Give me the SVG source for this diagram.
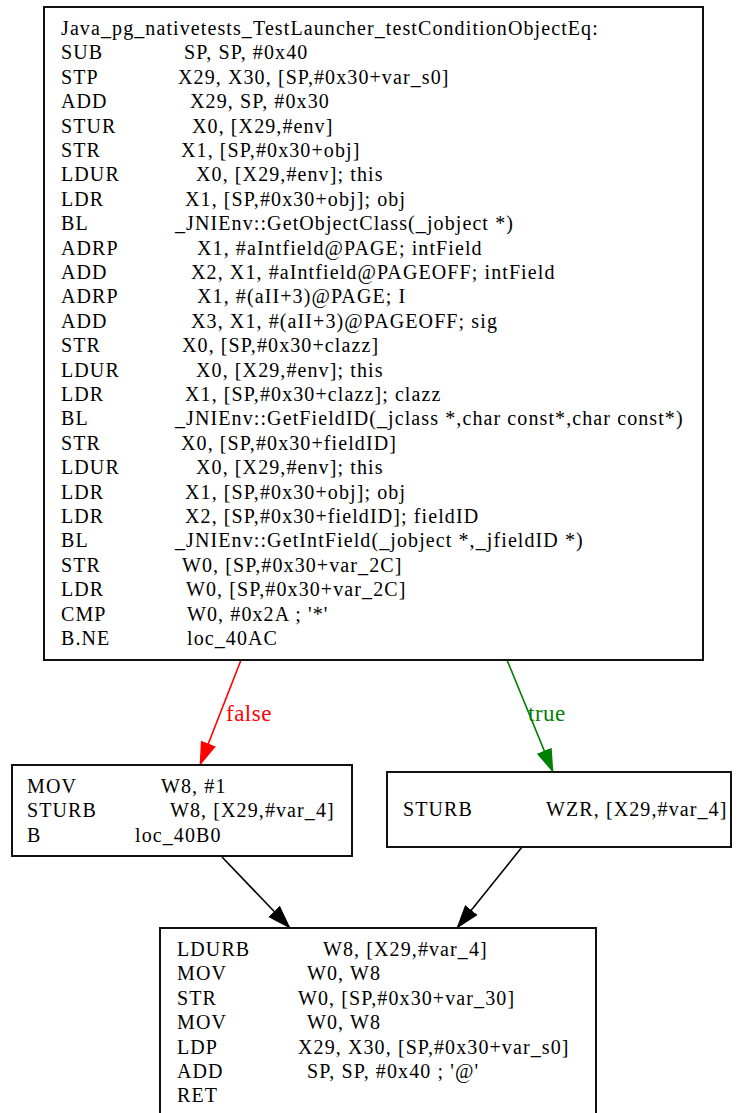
<svg xmlns="http://www.w3.org/2000/svg" width="740" height="1113" viewBox="0 0 740 1113">
<style>
text{font-family:"Liberation Serif","Times New Roman",serif;font-size:20px;letter-spacing:1.1px;fill:#000}
text.lbl{font-size:23px;letter-spacing:0.5px}
.box{fill:#fff;stroke:#111;stroke-width:2}
.e{fill:none;stroke-width:1.6}
</style>
<defs>
<marker id="ar" markerUnits="userSpaceOnUse" viewBox="0 0 24 18" markerWidth="24" markerHeight="18" refX="23" refY="9" orient="auto"><path d="M0,1 L24,9 L0,17 z" fill="#ff0000"/></marker>
<marker id="ag" markerUnits="userSpaceOnUse" viewBox="0 0 24 18" markerWidth="24" markerHeight="18" refX="23" refY="9" orient="auto"><path d="M0,1 L24,9 L0,17 z" fill="#008000"/></marker>
<marker id="ak" markerUnits="userSpaceOnUse" viewBox="0 0 24 18" markerWidth="24" markerHeight="18" refX="23" refY="9" orient="auto"><path d="M0,1 L24,9 L0,17 z" fill="#000"/></marker>
</defs>
<rect width="740" height="1113" fill="#fff"/>
<g id="connectors">
<path class="e" d="M241,660 L200,765" stroke="#ff0000" marker-end="url(#ar)"/>
<text class="lbl" x="226" y="721" style="fill:#ff0000">false</text>
<path class="e" d="M507,660 L553,772" stroke="#008000" marker-end="url(#ag)"/>
<text class="lbl" x="528" y="721" style="fill:#008000">true</text>
<path class="e" d="M222,857 L290,928" stroke="#000" marker-end="url(#ak)"/>
<path class="e" d="M522,847 L457,928" stroke="#000" marker-end="url(#ak)"/>
</g>
<g id="node_top">
<rect class="box" x="44" y="7" width="659" height="653"/>
<text x="61" y="35">Java_pg_nativetests_TestLauncher_testConditionObjectEq:</text>
<text y="59.4"><tspan x="61">SUB</tspan><tspan x="184">SP, SP, #0x40</tspan></text>
<text y="83.8"><tspan x="61">STP</tspan><tspan x="178">X29, X30, [SP,#0x30+var_s0]</tspan></text>
<text y="108.2"><tspan x="61">ADD</tspan><tspan x="190">X29, SP, #0x30</tspan></text>
<text y="132.6"><tspan x="61">STUR</tspan><tspan x="192">X0, [X29,#env]</tspan></text>
<text y="157"><tspan x="61">STR</tspan><tspan x="181">X1, [SP,#0x30+obj]</tspan></text>
<text y="181.4"><tspan x="61">LDUR</tspan><tspan x="196">X0, [X29,#env]; this</tspan></text>
<text y="205.8"><tspan x="61">LDR</tspan><tspan x="185">X1, [SP,#0x30+obj]; obj</tspan></text>
<text y="230.2"><tspan x="61">BL</tspan><tspan x="175">_JNIEnv::GetObjectClass(_jobject *)</tspan></text>
<text y="254.6"><tspan x="61">ADRP</tspan><tspan x="197">X1, #aIntfield@PAGE; intField</tspan></text>
<text y="279"><tspan x="61">ADD</tspan><tspan x="191">X2, X1, #aIntfield@PAGEOFF; intField</tspan></text>
<text y="303.4"><tspan x="61">ADRP</tspan><tspan x="197">X1, #(aII+3)@PAGE; I</tspan></text>
<text y="327.8"><tspan x="61">ADD</tspan><tspan x="191">X3, X1, #(aII+3)@PAGEOFF; sig</tspan></text>
<text y="352.2"><tspan x="61">STR</tspan><tspan x="182">X0, [SP,#0x30+clazz]</tspan></text>
<text y="376.6"><tspan x="61">LDUR</tspan><tspan x="196">X0, [X29,#env]; this</tspan></text>
<text y="401"><tspan x="61">LDR</tspan><tspan x="185">X1, [SP,#0x30+clazz]; clazz</tspan></text>
<text y="425.4"><tspan x="61">BL</tspan><tspan x="175">_JNIEnv::GetFieldID(_jclass *,char const*,char const*)</tspan></text>
<text y="449.8"><tspan x="61">STR</tspan><tspan x="181">X0, [SP,#0x30+fieldID]</tspan></text>
<text y="474.2"><tspan x="61">LDUR</tspan><tspan x="196">X0, [X29,#env]; this</tspan></text>
<text y="498.6"><tspan x="61">LDR</tspan><tspan x="185">X1, [SP,#0x30+obj]; obj</tspan></text>
<text y="523"><tspan x="61">LDR</tspan><tspan x="185">X2, [SP,#0x30+fieldID]; fieldID</tspan></text>
<text y="547.4"><tspan x="61">BL</tspan><tspan x="175">_JNIEnv::GetIntField(_jobject *,_jfieldID *)</tspan></text>
<text y="571.8"><tspan x="61">STR</tspan><tspan x="182">W0, [SP,#0x30+var_2C]</tspan></text>
<text y="596.2"><tspan x="61">LDR</tspan><tspan x="186">W0, [SP,#0x30+var_2C]</tspan></text>
<text y="620.6"><tspan x="61">CMP</tspan><tspan x="187">W0, #0x2A ; '*'</tspan></text>
<text y="645"><tspan x="61">B.NE</tspan><tspan x="187">loc_40AC</tspan></text>
</g>
<g id="node_false">
<rect class="box" x="12" y="765" width="340" height="91"/>
<text y="793"><tspan x="27">MOV</tspan><tspan x="161">W8, #1</tspan></text>
<text y="817.4"><tspan x="27">STURB</tspan><tspan x="170">W8, [X29,#var_4]</tspan></text>
<text y="841.8"><tspan x="27">B</tspan><tspan x="135">loc_40B0</tspan></text>
</g>
<g id="node_true">
<rect class="box" x="387" y="772" width="344" height="75"/>
<text y="816"><tspan x="403">STURB</tspan><tspan x="546">WZR, [X29,#var_4]</tspan></text>
</g>
<g id="node_ret">
<rect class="box" x="160" y="928" width="436" height="200"/>
<text y="956"><tspan x="177">LDURB</tspan><tspan x="323">W8, [X29,#var_4]</tspan></text>
<text y="980.4"><tspan x="177">MOV</tspan><tspan x="307">W0, W8</tspan></text>
<text y="1004.8"><tspan x="177">STR</tspan><tspan x="298">W0, [SP,#0x30+var_30]</tspan></text>
<text y="1029.2"><tspan x="177">MOV</tspan><tspan x="307">W0, W8</tspan></text>
<text y="1053.6"><tspan x="177">LDP</tspan><tspan x="298">X29, X30, [SP,#0x30+var_s0]</tspan></text>
<text y="1078"><tspan x="177">ADD</tspan><tspan x="307">SP, SP, #0x40 ; '@'</tspan></text>
<text y="1102.4"><tspan x="177">RET</tspan></text>
</g>
</svg>
